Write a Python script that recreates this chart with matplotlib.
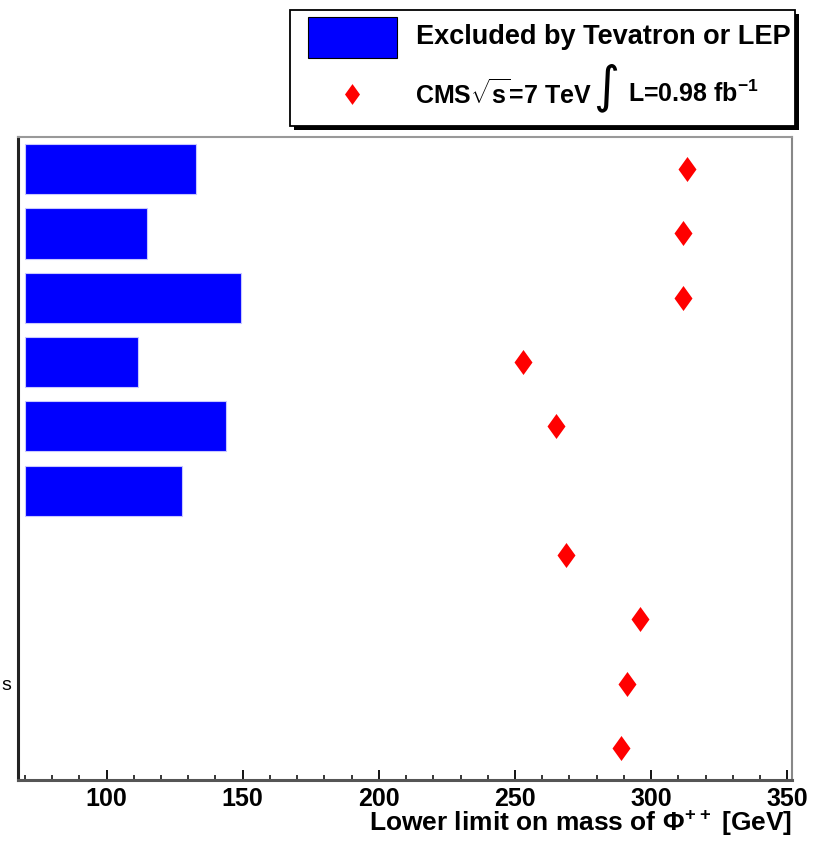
# -*- coding: utf-8 -*-
import numpy as np
import matplotlib
matplotlib.use('Agg')
import matplotlib.pyplot as plt
from matplotlib.patches import Rectangle
from matplotlib.path import Path

plt.rcParams['font.family'] = ['Liberation Sans', 'DejaVu Sans']
plt.rcParams['mathtext.fontset'] = 'custom'
plt.rcParams['mathtext.rm'] = 'Liberation Sans:bold'
plt.rcParams['mathtext.it'] = 'Liberation Sans:bold'
plt.rcParams['mathtext.bf'] = 'Liberation Sans:bold'

# one row per channel, top to bottom
rows = np.arange(10)
row_labels = ['', '', '', '', '', '', '', '', 's', '']
# previous limits from Tevatron / LEP (NaN where none)
tevatron_lep = [133.0, 114.7, 149.5, 111.4, 143.7, 127.7,
                np.nan, np.nan, np.nan, np.nan]
# CMS 7 TeV, 0.98 fb^-1 lower limits (NaN where none)
cms_limit = [313.1, 311.7, 311.7, 252.9, 265.1, np.nan,
             268.9, 295.8, 291.0, 289.1]
bar_start = 70.0

# tall diamond like ROOT marker 33
diamond = Path([(0, 1), (0.72, 0), (0, -1), (-0.72, 0), (0, 1)],
               [Path.MOVETO, Path.LINETO, Path.LINETO, Path.LINETO, Path.CLOSEPOLY])

fig = plt.figure(figsize=(8.15, 8.41), dpi=100)
ax = fig.add_axes([18/815, 1-780/841, (791.7-18)/815, 643/841])

tev = np.array(tevatron_lep)
ax.barh(rows, tev - bar_start, left=bar_start, height=0.78,
        color='#0000ff', edgecolor='#c8c8ff', linewidth=0.8)
ax.plot(cms_limit, rows, linestyle='', marker=diamond, markersize=18,
        color='#ff0000', markeredgewidth=0)

ax.set_xlim(67.5, 351.6)
ax.set_ylim(9.5, -0.5)
ax.set_xticks(np.arange(100, 351, 50))
ax.set_xticks(np.arange(70, 351, 10), minor=True)
ax.tick_params(axis='x', which='major', direction='in', length=7.5, width=1.3,
               labelsize=18, pad=5)
ax.tick_params(axis='x', which='minor', direction='in', length=3.8, width=1.1)
for lab in ax.get_xticklabels():
    lab.set_fontweight('bold')
ax.set_yticks(rows)
ax.set_yticklabels(row_labels, fontsize=14)
ax.tick_params(axis='y', length=0, pad=5)

ax.spines['left'].set_linewidth(2.2)
ax.spines['left'].set_color('#222222')
ax.spines['bottom'].set_linewidth(2.2)
ax.spines['bottom'].set_color('#555555')
ax.spines['top'].set_linewidth(1.5)
ax.spines['top'].set_color('#999999')
ax.spines['right'].set_linewidth(1.5)
ax.spines['right'].set_color('#888888')

fig.text(792/815, 1-831/841, r'Lower limit on mass of $\Phi^{\!+\!+}$ [GeV]',
         fontsize=19, fontweight='bold', ha='right', va='baseline')

# legend box with shadow
lg = fig.add_axes([0, 0, 1, 1], zorder=5)
lg.set_xlim(0, 815)
lg.set_ylim(841, 0)
lg.axis('off')
lg.add_patch(Rectangle((294, 14), 505, 116, facecolor='black', edgecolor='none'))
lg.add_patch(Rectangle((290, 10), 505, 116, facecolor='white', edgecolor='black',
                       linewidth=1.3))
lg.add_patch(Rectangle((308, 17), 89, 41, facecolor='#0000ff', edgecolor='black',
                       linewidth=0.8))
lg.plot([352], [94], linestyle='', marker=diamond, markersize=15,
        color='#ff0000', markeredgewidth=0)
lg.text(416, 37, 'Excluded by Tevatron or LEP', fontsize=19.5, fontweight='bold',
        va='center', ha='left')
lg.text(415, 94, r'CMS$\sqrt{s}$=7 TeV', fontsize=18, fontweight='bold',
        va='center', ha='left')
lg.text(606, 88, '\u222b', fontsize=36, va='center', ha='center',
        family='DejaVu Sans')
lg.text(628, 94, r'L=0.98 fb$^{-1}$', fontsize=18, fontweight='bold',
        va='center', ha='left')

fig.savefig('out.png', dpi=100)
